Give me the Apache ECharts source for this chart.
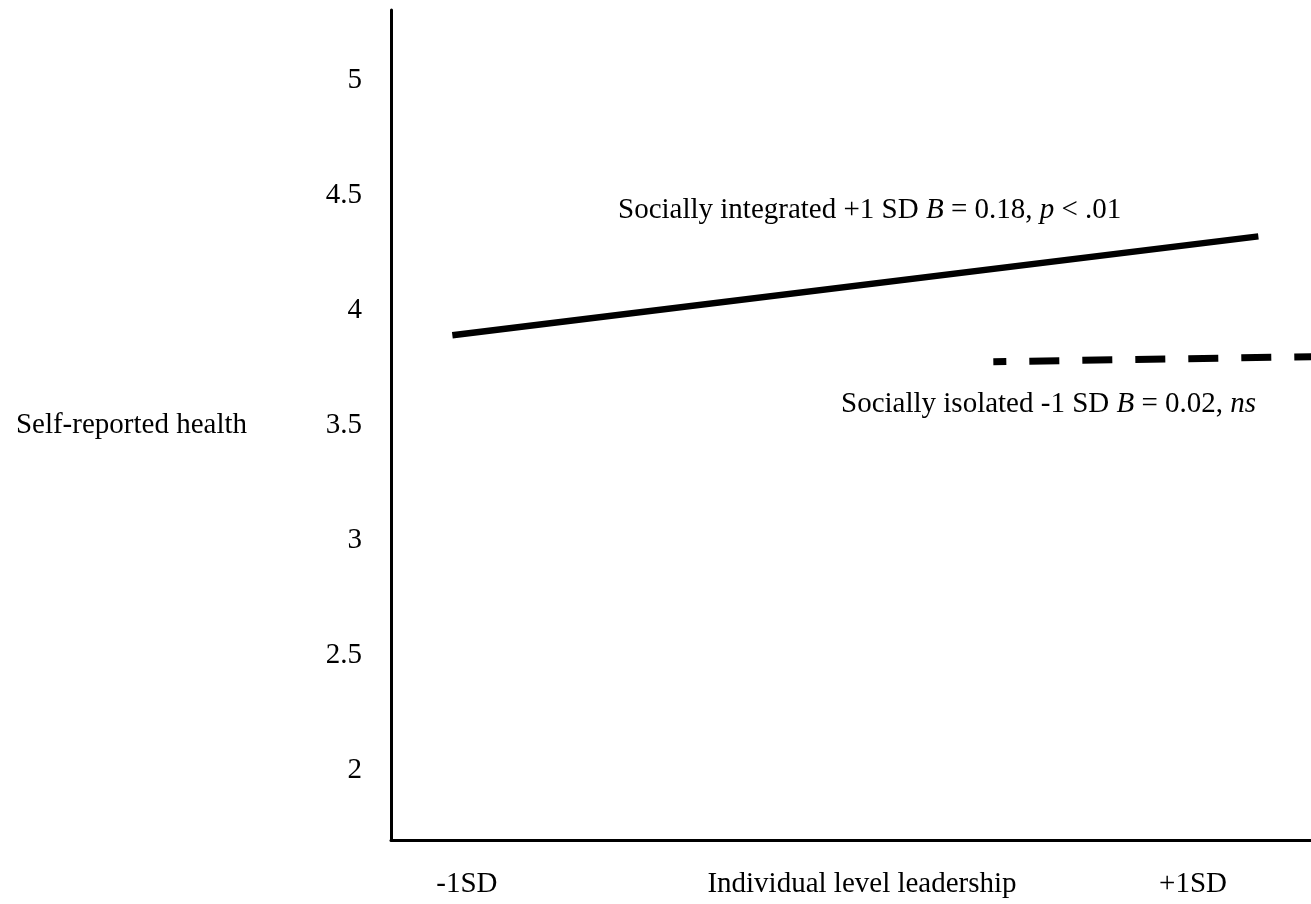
<!DOCTYPE html>
<html>
<head>
<meta charset="utf-8">
<script src="https://cdn.jsdelivr.net/npm/echarts@6/dist/echarts.min.js"></script>
<style>
  html, body { margin: 0; padding: 0; background: #ffffff; }
  #chart { width: 1311px; height: 904px; }
</style>
</head>
<body>
<div id="chart"></div>
<script>
// Simple slopes: self-reported health by individual level leadership
const xTickValues = [-1, 1];
const xTickLabels = ['-1SD', '+1SD'];
const yTickValues = [2, 2.5, 3, 3.5, 4, 4.5, 5];

// Socially integrated (+1 SD)
const integratedX = [-1.04, 1.18];
const integratedY = [3.89, 4.32];

// Socially isolated (-1 SD)
const isolatedX = [0.45, 1.33];
const isolatedY = [3.775, 3.797];

const integratedLabel = 'Socially integrated +1 SD {i|B} = 0.18, {i|p} < .01';
const isolatedLabel = 'Socially isolated -1 SD {i|B} = 0.02, {i|ns}';
const xAxisTitle = 'Individual level leadership';
const yAxisTitle = 'Self-reported health';

const FONT = '"Liberation Serif", "Times New Roman", serif';
const FS = 29;

const toPairs = (xs, ys) => xs.map((x, i) => [x, ys[i]]);

const richStyles = {
  i: { fontFamily: FONT, fontSize: FS, fontStyle: 'italic', fill: '#000' }
};

const chart = echarts.init(document.getElementById('chart'));
chart.setOption({
  backgroundColor: '#ffffff',
  animation: false,
  grid: { left: 391, right: 0, top: 10, bottom: 64, outerBoundsMode: 'none' },
  xAxis: {
    type: 'value',
    min: -1.209,
    max: 1.325,
    name: xAxisTitle,
    nameLocation: 'middle',
    nameGap: 30,
    nameMoveOverlap: false,
    nameTextStyle: {
      fontFamily: FONT, fontSize: FS, color: '#000',
      verticalAlign: 'top', padding: [0, 0, 0, 22]
    },
    axisLine: { show: true, onZero: false, lineStyle: { color: '#000', width: 3 } },
    axisTick: { show: false },
    splitLine: { show: false },
    axisLabel: {
      customValues: xTickValues,
      formatter: v => xTickLabels[xTickValues.indexOf(v)] || '',
      margin: 30,
      fontFamily: FONT, fontSize: FS, color: '#000'
    }
  },
  yAxis: {
    type: 'value',
    min: 1.696,
    max: 5.304,
    name: yAxisTitle,
    nameLocation: 'middle',
    nameRotate: 0,
    nameGap: 144,
    nameMoveOverlap: false,
    nameTextStyle: {
      fontFamily: FONT, fontSize: FS, color: '#000',
      align: 'right', verticalAlign: 'middle', padding: [0, 0, 29, 0]
    },
    axisLine: { show: true, onZero: false, lineStyle: { color: '#000', width: 3 } },
    axisTick: { show: false },
    splitLine: { show: false },
    axisLabel: {
      customValues: yTickValues,
      margin: 29,
      fontFamily: FONT, fontSize: FS, color: '#000'
    }
  },
  series: [
    {
      name: 'Socially integrated',
      type: 'line',
      data: toPairs(integratedX, integratedY),
      symbol: 'none',
      lineStyle: { color: '#000', width: 6.5, cap: 'butt' }
    },
    {
      name: 'Socially isolated',
      type: 'line',
      data: toPairs(isolatedX, isolatedY),
      symbol: 'none',
      lineStyle: { color: '#000', width: 7, type: [30, 23], dashOffset: 17, cap: 'butt' }
    }
  ],
  graphic: [
    {
      type: 'text', x: 618, y: 210,
      style: {
        text: integratedLabel, rich: richStyles,
        fontFamily: FONT, fontSize: FS, fill: '#000',
        align: 'left', verticalAlign: 'middle'
      }
    },
    {
      type: 'text', x: 841, y: 404,
      style: {
        text: isolatedLabel, rich: richStyles,
        fontFamily: FONT, fontSize: FS, fill: '#000',
        align: 'left', verticalAlign: 'middle'
      }
    }
  ]
});
</script>
</body>
</html>
